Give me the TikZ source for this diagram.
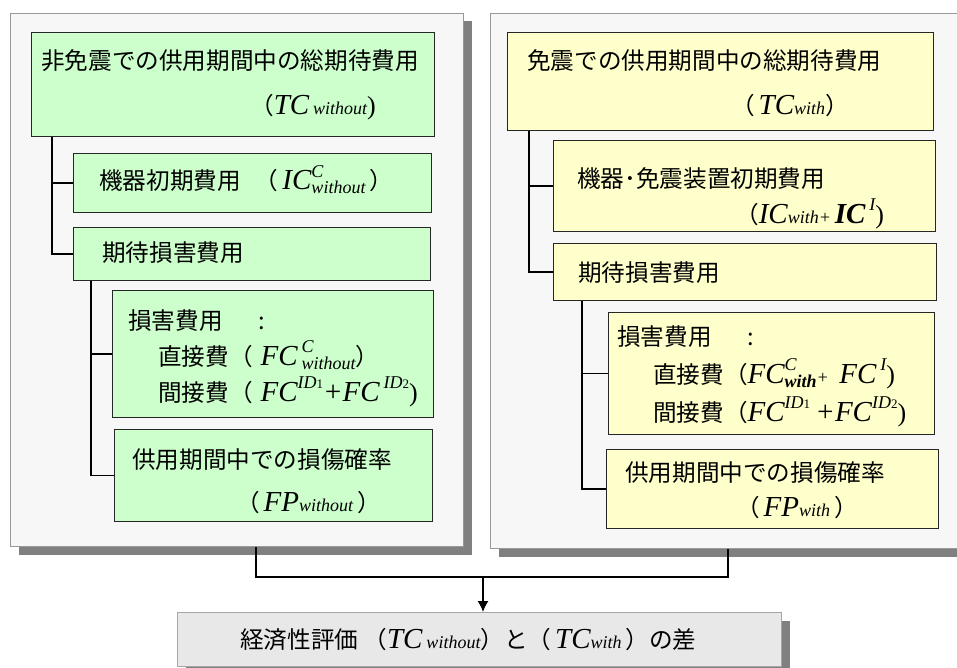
\documentclass[tikz,border=0pt]{standalone}
\usepackage{fontspec}
\setmainfont{Noto Sans CJK JP}
\newfontfamily\tms{Liberation Serif}
\usetikzlibrary{shadows,arrows.meta}
\definecolor{grn}{HTML}{CCFFCC}
\definecolor{ylw}{HTML}{FFFFCC}
\definecolor{pnl}{HTML}{F7F7F7}
\definecolor{shd}{HTML}{808080}
\definecolor{evl}{HTML}{E8E8E8}
\newcommand\Lb[1]{{\tms\itshape\fontsize{29}{31}\selectfont #1}}
\newcommand\Ls[1]{{\tms\itshape\fontsize{18}{20}\selectfont #1}}
\newcommand\Lss[1]{{\tms\fontsize{13}{14}\selectfont #1}}
\newcommand\Lrp{{\tms\fontsize{26}{28}\selectfont )}}
\newcommand\SupSub[2]{\rlap{\raisebox{13pt}{\Ls{#1}}}\raisebox{-4pt}{\Ls{#2}}}
\newcommand\Sup[1]{\raisebox{13pt}{#1}}
\begin{document}
\begin{tikzpicture}[x=1pt,y=-1pt,
  panel/.style={draw=black!40, line width=1pt, fill=pnl, anchor=north west, inner sep=0pt,
    general shadow={fill=shd, shadow xshift=8pt, shadow yshift=-8pt}},
  gbox/.style={draw=black!85, line width=1.2pt, fill=grn, anchor=north west, inner sep=0pt},
  ybox/.style={draw=black!85, line width=1.2pt, fill=ylw, anchor=north west, inner sep=0pt},
  evbox/.style={draw=black!35, line width=1pt, fill=evl, anchor=north west, inner sep=0pt,
    general shadow={fill=shd, shadow xshift=8pt, shadow yshift=-8pt}},
  txt/.style={anchor=base west, inner sep=0pt, font=\fontsize{23.6}{26}\selectfont},
  conn/.style={draw=black, line width=1.4pt}]
\useasboundingbox (0,0) rectangle (957,668);
% panels
\node[panel, minimum width=453, minimum height=533] (LP) at (10,13) {};
\node[panel, minimum width=472, minimum height=535] (RP) at (490,13) {};
% left boxes
\node[gbox, minimum width=403, minimum height=104] (L1) at (31,32) {};
\node[gbox, minimum width=358, minimum height=59] (L2) at (73,153) {};
\node[gbox, minimum width=357, minimum height=53] (L3) at (73,227) {};
\node[gbox, minimum width=321, minimum height=127] (L4) at (112,290) {};
\node[gbox, minimum width=318, minimum height=92] (L5) at (114,429) {};
% right boxes
\node[ybox, minimum width=426, minimum height=98] (R1) at (507,32) {};
\node[ybox, minimum width=382, minimum height=91] (R2) at (553,140) {};
\node[ybox, minimum width=383, minimum height=57] (R3) at (553,243) {};
\node[ybox, minimum width=326, minimum height=122] (R4) at (608,312) {};
\node[ybox, minimum width=332, minimum height=79] (R5) at (606,449) {};
% evaluation box
\node[evbox, minimum width=604, minimum height=54] (EV) at (177,612) {};
% left texts
\node[txt] (L1a) at (41,70) {非免震での供用期間中の総期待費用};
\node[txt] (L1b) at (250,115) {（\Lb{TC}\,\Ls{without}\Lrp};
\node[txt] (L2a) at (99,190) {機器初期費用\hspace{0.6em}（\,\Lb{IC}\SupSub{C}{without}\,）};
\node[txt] (L3a) at (102,261) {期待損害費用};
\node[txt] (L4a) at (128,329) {損害費用\hspace{1.5em}:};
\node[txt] (L4b) at (158,365) {直接費（\hspace{8pt}\Lb{FC}\,\SupSub{C}{without}）};
\node[txt] (L4c) at (158,401) {間接費（\hspace{8pt}\Lb{FC}\Sup{\Ls{ID}\Lss{1}}\Lb{+}\Lb{FC}\,\Sup{\Ls{ID}\Lss{2}}\Lrp};
\node[txt] (L5a) at (132,468) {供用期間中での損傷確率};
\node[txt] (L5b) at (236,511) {（\,\Lb{FP}\Ls{without}\,）};
% right texts
\node[txt] (R1a) at (527,70) {免震での供用期間中の総期待費用};
\node[txt] (R1b) at (731,115) {（\,\Lb{TC}\Ls{with}）};
\node[txt] (R2a) at (577,188) {機器･免震装置初期費用};
\node[txt] (R2b) at (735,223) {（\Lb{IC}\Ls{with}\Ls{+}\,{\bfseries\Lb{IC}}\,\Sup{\Ls{I}}\Lrp};
\node[txt] (R3a) at (578,281) {期待損害費用};
\node[txt] (R4a) at (617,345) {損害費用\hspace{1.5em}:};
\node[txt] (R4b) at (653,383) {直接費（\Lb{FC}\SupSub{C}{\bfseries with}\Ls{+}\ \ \Lb{FC}\,\Sup{\Ls{I}}\Lrp};
\node[txt] (R4c) at (653,421) {間接費（\Lb{FC}\Sup{\Ls{ID}\Lss{1}}\ \Lb{+}\Lb{FC}\Sup{\Ls{ID}\Lss{2}}\Lrp};
\node[txt] (R5a) at (625,481) {供用期間中での損傷確率};
\node[txt] (R5b) at (736,516) {（\,\Lb{FP}\Ls{with}\,）};
% bottom text
\node[txt] (EVa) at (240,648) {経済性評価\ （\Lb{TC}\,\Ls{without}）と（\,\Lb{TC}\Ls{with}\,）の差};
% left connectors
\draw[conn] ([xshift=21pt]L1.south west) |- (L2.west);
\draw[conn] ([xshift=21pt]L1.south west) |- (L3.west);
\draw[conn] ([xshift=18pt]L3.south west) |- (L4.west);
\draw[conn] ([xshift=18pt]L3.south west) |- (L5.west);
% right connectors
\draw[conn] ([xshift=22pt]R1.south west) |- (R2.west);
\draw[conn] ([xshift=22pt]R1.south west) |- (R3.west);
\draw[conn] ([xshift=29pt]R3.south west) |- (R4.west);
\draw[conn] ([xshift=29pt]R3.south west) |- (R5.west);
% bottom connectors
\coordinate (jn) at (483,577);
\draw[conn] ([xshift=246pt]LP.south west) |- (jn) -| ([xshift=238pt]RP.south west);
\draw[conn, -{Latex[length=11pt,width=11pt]}] (jn) -- (jn |- EV.north);
\end{tikzpicture}
\end{document}
